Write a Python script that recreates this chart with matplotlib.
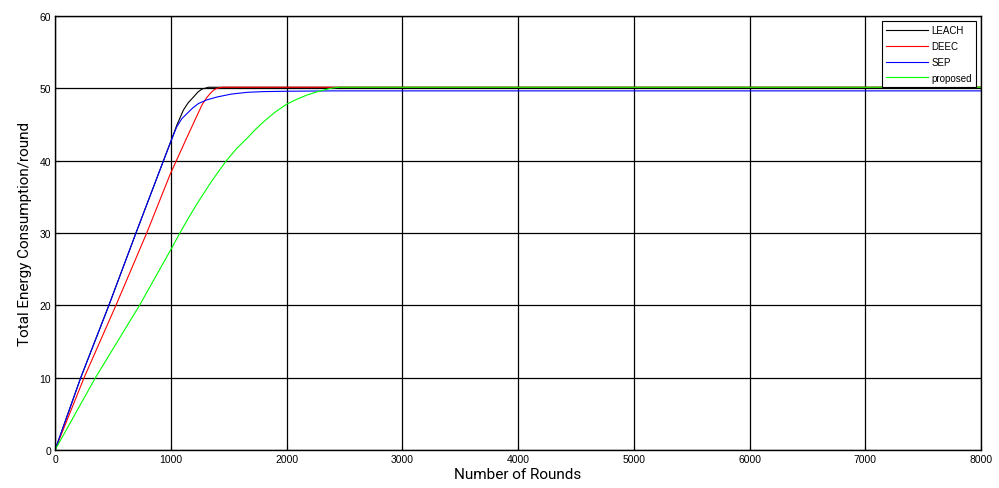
import matplotlib
matplotlib.use('Agg')
import matplotlib.pyplot as plt

# values (rounds, total energy)
leach_x = [0, 222, 465, 699, 994, 1052, 1109, 1150, 1196, 1235, 1269, 1327, 8000]
leach_y = [0, 10, 20, 30, 42.4, 44.9, 47.0, 48.0, 48.8, 49.5, 49.9, 50.15, 50.15]

deec_x = [0, 251, 526, 792, 994, 1139, 1269, 1310, 1341, 1370, 1399, 1440, 8000]
deec_y = [0, 10, 20, 30, 38.1, 43.2, 47.7, 48.7, 49.3, 49.75, 50.0, 50.15, 50.15]

sep_x = [0, 222, 465, 699, 994, 1052, 1095, 1139, 1190, 1239, 1310, 1399, 1520, 1659, 1800, 2000, 2400, 8000]
sep_y = [0, 10, 20, 30, 42.4, 44.7, 45.8, 46.5, 47.3, 47.9, 48.4, 48.8, 49.2, 49.45, 49.55, 49.6, 49.65, 49.65]

prop_x = [0, 349, 730, 1000, 1075, 1150, 1225, 1350, 1480, 1570, 1659, 1730, 1803, 1900, 2000, 2090, 2180, 2280, 2382, 2450, 8000]
prop_y = [0, 10, 20, 27.7, 29.9, 32.0, 34.0, 37.1, 40.0, 41.7, 43.1, 44.3, 45.4, 46.7, 47.8, 48.5, 49.1, 49.6, 50.0, 50.15, 50.15]

series = [
    ('LEACH', leach_x, leach_y, '#000000'),
    ('DEEC', deec_x, deec_y, '#ff0000'),
    ('SEP', sep_x, sep_y, '#0000ff'),
    ('proposed', prop_x, prop_y, '#00ff00'),
]

x_ticks = [0, 1000, 2000, 3000, 4000, 5000, 6000, 7000, 8000]
y_ticks = [0, 10, 20, 30, 40, 50, 60]

plt.rcParams['font.family'] = ['Liberation Sans', 'DejaVu Sans']

fig = plt.figure(figsize=(9.99, 4.89), dpi=100)
ax = fig.add_axes([0.0551, 0.0777, 0.9269, 0.8875])

for name, xs, ys, col in series:
    ax.plot(xs, ys, color=col, lw=0.8, label=name)

ax.set_xlim(0, 8000)
ax.set_ylim(0, 60)
ax.set_xticks(x_ticks)
ax.set_yticks(y_ticks)
ax.grid(True, color='black', lw=0.9, ls='-')
ax.set_axisbelow(True)
ax.tick_params(direction='in', length=3, width=0.8, labelsize=7.5, pad=3,
               top=False, right=False)
for s in ax.spines.values():
    s.set_linewidth(1.0)

lab_font = ['Roboto', 'DejaVu Sans']
ax.set_xlabel('Number of Rounds', fontsize=11, family=lab_font,
              fontstretch='condensed', labelpad=2)
ax.set_ylabel('Total Energy Consumption/round', fontsize=11, family=lab_font,
              fontstretch='condensed', labelpad=5)

leg = ax.legend(loc='upper right', fontsize=7, frameon=True, fancybox=False,
                edgecolor='black', handlelength=4.3, borderaxespad=0.5,
                labelspacing=0.6, borderpad=0.45, handletextpad=0.35)
leg.get_frame().set_linewidth(0.8)
leg.get_frame().set_alpha(1)

fig.savefig('out.png', dpi=100)
